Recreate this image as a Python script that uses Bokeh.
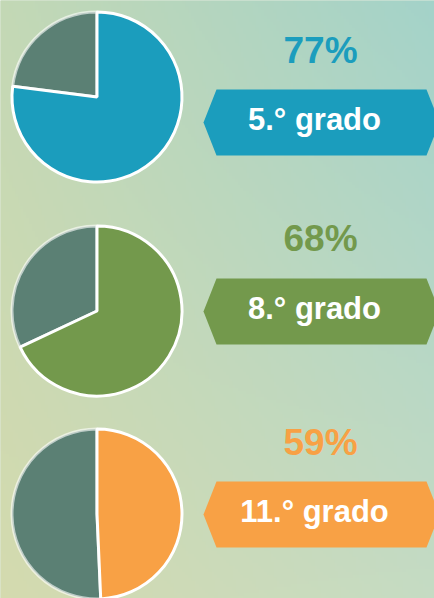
import numpy as np
from bokeh.plotting import figure
from bokeh.models import Range1d, ColumnDataSource
from bokeh.embed import file_html
from bokeh.resources import INLINE
from bokeh.core.properties import value

# ---- data ----
grades = ["5.° grado", "8.° grado", "11.° grado"]
pct_labels = ["77%", "68%", "59%"]
pie_share = [0.77, 0.68, 0.493]   # share drawn in each pie (as pictured)
colors = ["#1b9dbd", "#73994c", "#f8a145"]
rest_color = "#5b8074"

# ---- layout (screen px, top-down) ----
W, H = 434, 598
pie_cx = 96.5
pie_cy = [96.5, 310.5, 513.5]
pie_r = 85
banner_cy = [122, 311, 514]
banner_half = 33
pct_base = [49.5, 238, 441.5]
grade_base = [119, 307.5, 510.5]

def fy(v):
    return H - v

p = figure(width=W, height=H, output_backend="svg", toolbar_location=None,
           x_range=Range1d(0, W), y_range=Range1d(0, H), min_border=0,
           outline_line_color=None, background_fill_color="#c4d8bc",
           border_fill_color="#c4d8bc")
p.axis.visible = False
p.grid.visible = False

# background gradient
ny, nx = 200, 150
TL = np.array([0xc3, 0xd8, 0xb5]); TR = np.array([0xa3, 0xd2, 0xc9])
BL = np.array([0xd4, 0xda, 0xae]); BR = np.array([0xc5, 0xdb, 0xc3])
u = np.linspace(0, 1, nx)[None, :, None]
v = np.linspace(0, 1, ny)[:, None, None]  # 0 = bottom
col = (BL * (1 - u) * (1 - v) + BR * u * (1 - v) + TL * (1 - u) * v + TR * u * v)
img = np.empty((ny, nx), dtype=np.uint32)
view = img.view(dtype=np.uint8).reshape((ny, nx, 4))
view[:, :, :3] = np.round(col).astype(np.uint8)
view[:, :, 3] = 255
p.image_rgba(image=[img], x=-3, y=-3, dw=W + 6, dh=H + 6)

# pies
src = ColumnDataSource(dict(
    x=[pie_cx] * 3,
    y=[fy(c) for c in pie_cy],
    a0=[np.pi / 2] * 3,
    a1=[np.pi / 2 - 2 * np.pi * s for s in pie_share],
    color=colors,
))
p.wedge(x="x", y="y", radius=pie_r, start_angle="a1", end_angle="a0",
        direction="clock", fill_color=rest_color, line_color="white",
        line_alpha=0.6, line_width=3, source=src)
p.wedge(x="x", y="y", radius=pie_r, start_angle="a0", end_angle="a1",
        direction="clock", fill_color="color", line_color="white",
        line_width=3, source=src)

# banners
xs, ys = [], []
for cy in banner_cy:
    xs.append([203, 216, 426, 439, 426, 216])
    ys.append([fy(cy), fy(cy - banner_half), fy(cy - banner_half), fy(cy),
               fy(cy + banner_half), fy(cy + banner_half)])
p.patches(xs=xs, ys=ys, fill_color=colors, line_color=None)

# texts
p.text(x=[320] * 3, y=[fy(b) for b in pct_base], text=pct_labels,
       text_font=value("Liberation Sans"), text_font_style="bold",
       text_font_size="37px", text_align="center", text_baseline="alphabetic",
       text_color=colors)
p.text(x=[314] * 3, y=[fy(b) for b in grade_base], text=grades,
       text_font=value("Liberation Sans"), text_font_style="bold",
       text_font_size="31px", text_align="center", text_baseline="alphabetic",
       text_color="white")

html = file_html(p, INLINE)
html = html.replace("<head>", "<head><style>html,body{margin:0;padding:0;overflow:hidden}</style>", 1)
open("out.html", "w").write(html)
